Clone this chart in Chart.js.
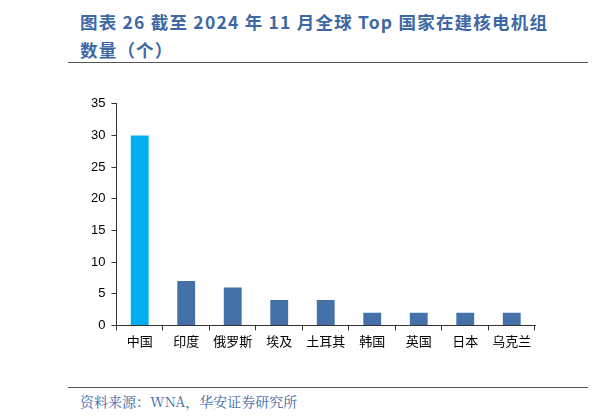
<!DOCTYPE html>
<html><head><meta charset="utf-8">
<script src="https://cdn.jsdelivr.net/npm/chart.js@4"></script>
<style>
body{margin:0;width:596px;height:420px;background:#fff;position:relative;overflow:hidden;font-family:"Noto Sans CJK SC";}
#t{position:absolute;left:80px;top:8px;width:560px;color:#3d68a5;font-weight:bold;font-size:17.5px;line-height:28px;letter-spacing:1.2px;}
#l1{position:absolute;left:68px;top:62px;width:520px;border-top:1px solid #555;}
#l2{position:absolute;left:68px;top:387px;width:520px;border-top:1px solid #555;}
#s{position:absolute;left:80px;top:391px;color:#3d68a5;font-size:14px;font-family:"Noto Serif CJK SC","Liberation Serif",serif;}
#c{position:absolute;left:80px;top:90px;width:470px;height:262px;}
</style></head><body>
<div id="t">图表 26 截至 2024 年 11 月全球 Top 国家在建核电机组<br>数量（个）</div>
<div id="l1"></div>
<div id="c"><canvas id="cv"></canvas></div>
<div id="l2"></div>
<div id="s">资料来源：WNA，华安证券研究所</div>
<script>
const categories=["中国","印度","俄罗斯","埃及","土耳其","韩国","英国","日本","乌克兰"];
const values=[30,7,6,4,4,2,2,2,2];
const colors=values.map((v,i)=>i===0?"#00aeef":"#4472a8");
new Chart(document.getElementById("cv"),{type:"bar",
data:{labels:categories,datasets:[{data:values,backgroundColor:colors,categoryPercentage:0.8,barPercentage:0.48}]},
options:{responsive:true,maintainAspectRatio:false,animation:false,
plugins:{legend:{display:false},tooltip:{enabled:false}},
layout:{padding:{right:15,left:5}},
scales:{x:{grid:{display:true,drawOnChartArea:false,offset:true,color:"#333",tickLength:5},border:{color:"#333"},ticks:{color:"#000",font:{size:13,family:"Noto Sans CJK SC"}}},
y:{min:0,max:35,ticks:{stepSize:5,color:"#000",font:{size:13,family:"Liberation Sans"},padding:6},grid:{drawOnChartArea:false,color:"#333",tickLength:5},border:{color:"#333"}}}}});
</script></body></html>
